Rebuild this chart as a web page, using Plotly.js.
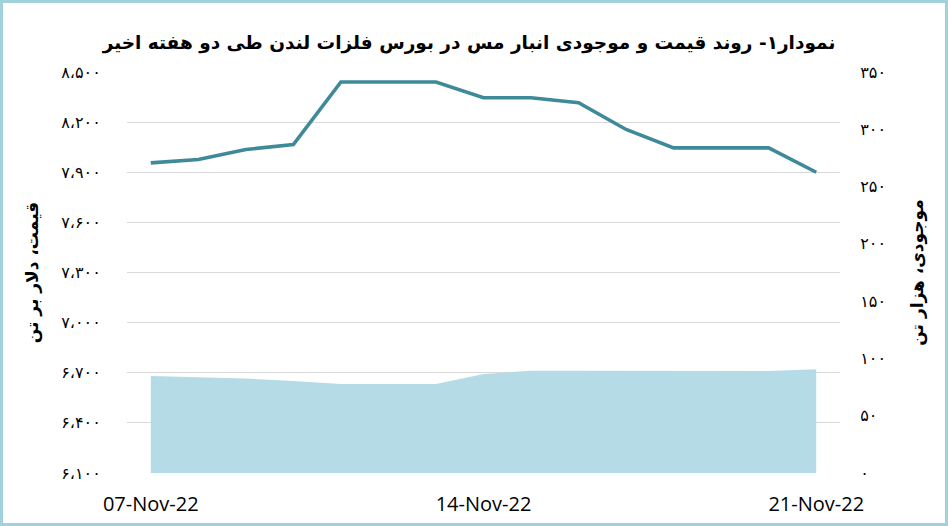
<!DOCTYPE html>
<html>
<head>
<meta charset="utf-8">
<script src="https://cdn.plot.ly/plotly-3.0.1.min.js"></script>
<style>
  html, body { margin: 0; padding: 0; background: #ffffff; }
  #wrap { position: relative; width: 948px; height: 526px; }
  #chart { position: absolute; left: 0; top: 0; width: 948px; height: 526px; }
  #frame { position: absolute; left: 0; top: 0; width: 948px; height: 526px; box-sizing: border-box;
           border: 3px solid #9fd2db; pointer-events: none; }
</style>
</head>
<body>
<div id="wrap">
  <div id="chart"></div>
  <div id="frame"></div>
</div>
<script>
// Data
const dates = ['2022-11-07','2022-11-08','2022-11-09','2022-11-10','2022-11-11','2022-11-12','2022-11-13',
               '2022-11-14','2022-11-15','2022-11-16','2022-11-17','2022-11-18','2022-11-19','2022-11-20','2022-11-21'];
const price = [7956, 7976, 8036, 8066, 8440, 8440, 8440, 8346, 8346, 8316, 8156, 8046, 8046, 8046, 7900];
const stock = [84.7, 83.6, 82.5, 80.3, 77.7, 77.7, 77.7, 86.4, 89.3, 89.2, 89.1, 89.0, 89.0, 89.0, 90.6];

const xTickVals = ['2022-11-07', '2022-11-14', '2022-11-21'];
const xTickText = ['07-Nov-22', '14-Nov-22', '21-Nov-22'];
const priceTickVals = [6100, 6400, 6700, 7000, 7300, 7600, 7900, 8200, 8500];
const priceTickText = ['۶،۱۰۰','۶،۴۰۰','۶،۷۰۰','۷،۰۰۰','۷،۳۰۰','۷،۶۰۰','۷،۹۰۰','۸،۲۰۰','۸،۵۰۰'];
const stockTickVals = [0, 50, 100, 150, 200, 250, 300, 350];
const stockTickText = ['۰','۵۰','۱۰۰','۱۵۰','۲۰۰','۲۵۰','۳۰۰','۳۵۰'];

const titleText = 'نمودار۱- روند قیمت و موجودی انبار مس در بورس فلزات لندن طی دو هفته اخیر';
const priceTitle = 'قیمت، دلار بر تن';
const stockTitle = 'موجودی، هزار تن';

const faFont = 'DejaVu Sans';

const traces = [
  {
    x: dates, y: stock, yaxis: 'y2', type: 'scatter', mode: 'lines',
    fill: 'tozeroy', fillcolor: '#b5dce6', line: {width: 0, color: '#b5dce6'},
    hoverinfo: 'skip', showlegend: false
  },
  {
    x: dates, y: price, yaxis: 'y', type: 'scatter', mode: 'lines',
    line: {width: 3.6, color: '#3e8a99'},
    showlegend: false
  }
];

const layout = {
  width: 948, height: 526,
  margin: {l: 127, r: 108, t: 72, b: 53, pad: 0},
  paper_bgcolor: '#ffffff', plot_bgcolor: '#ffffff',
  showlegend: false,
  title: {
    text: '<b>' + titleText + '</b>',
    x: 469/948, xref: 'container', xanchor: 'center',
    y: 1 - 43/526, yref: 'container', yanchor: 'middle',
    font: {family: faFont, size: 18.5, color: '#000000'}
  },
  xaxis: {
    type: 'date',
    range: ['2022-11-06 12:00', '2022-11-21 12:00'],
    tickvals: xTickVals, ticktext: xTickText,
    ticks: 'outside', ticklen: 13, tickcolor: 'rgba(0,0,0,0)',
    showgrid: false, zeroline: false, showline: false,
    tickfont: {family: 'Open Sans', size: 20, color: '#000000'}
  },
  yaxis: {
    range: [6100, 8500],
    tickvals: priceTickVals, ticktext: priceTickText,
    ticks: 'outside', ticklen: 22, tickcolor: 'rgba(0,0,0,0)',
    showgrid: true, gridcolor: '#d9d9d9', gridwidth: 1,
    zeroline: false, showline: false,
    tickfont: {family: faFont, size: 16, color: '#000000'},
    title: {text: '<b>' + priceTitle + '</b>', standoff: 18,
            font: {family: faFont, size: 17, color: '#000000'}}
  },
  yaxis2: {
    overlaying: 'y', side: 'right',
    range: [0, 350],
    tickvals: stockTickVals, ticktext: stockTickText,
    ticks: 'outside', ticklen: 16, tickcolor: 'rgba(0,0,0,0)',
    showgrid: false, zeroline: false, showline: false,
    tickfont: {family: faFont, size: 16, color: '#000000'},
    title: {text: '<b>' + stockTitle + '</b>', standoff: 26,
            font: {family: faFont, size: 17, color: '#000000'}}
  }
};

Plotly.newPlot('chart', traces, layout, {displayModeBar: false, staticPlot: true});
</script>
</body>
</html>
